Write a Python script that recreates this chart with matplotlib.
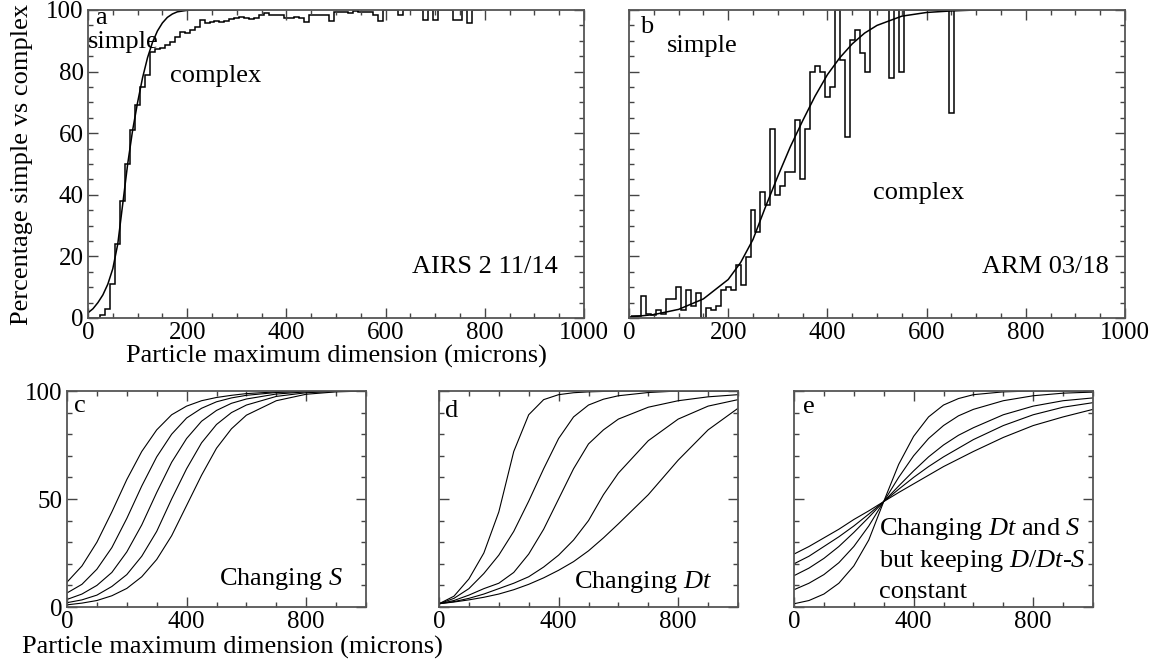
import numpy as np
import matplotlib.pyplot as plt
from matplotlib.ticker import MultipleLocator

plt.rcParams['font.family'] = ['Liberation Serif', 'DejaVu Serif']
plt.rcParams['mathtext.fontset'] = 'custom'
plt.rcParams['mathtext.rm'] = 'Liberation Serif'
plt.rcParams['mathtext.it'] = 'Liberation Serif:italic'

# (a) AIRS 2 11/14: percent simple per 10 micron bin, bins centred at 0, 10, 20 ...
a_pct = [0, 0, 0, 1, 3, 11, 24, 38, 50, 61,
         69, 75, 79, 86.5, 87.2, 87.8, 88.6, 89.7, 91.1, 93,
         92.4, 93.5, 94.6, 96.8, 95.7, 96.2, 96.5, 96.2, 96.5, 97,
         97.3, 97.8, 97.3, 97, 97.3, 98.4, 98.9, 98.4, 98.4, 98.4,
         97.5, 97.3, 97.8, 97.5, 96.2, 98.4, 98.4, 98.4, 98.4, 96.5,
         99.5, 99.5, 99.5, 99, 99.8, 99.5, 99.5, 99.5, 98.4, 96.4,
         100, 100, 100, 98.4, 100, 100, 100, 100, 96.8, 100,
         96.8, 100, 100, 100, 96.8, 96.8, 100, 95.7, 100, 100]
a_fit_x = [0, 10, 20, 30, 40, 50, 60, 70, 80, 90, 100, 110, 120,
           130, 140, 150, 160, 170, 180, 200, 220, 250, 300]
a_fit_y = [1.7, 3, 5, 7.5, 11, 16, 24, 37, 50, 61, 70, 78, 84.5,
           89.5, 93.2, 95.8, 97.6, 98.7, 99.4, 99.9, 100, 100, 100]

# (b) ARM 03/18, 10 micron bins starting at 5 microns
b_pct = [0.5, 0.8, 7, 1.4, 1.0, 2.5, 1.4, 6.3, 6.3, 10,
         2.5, 9.2, 4, 8.2, 0, 3.4, 2.5, 3.8, 9, 10.1,
         9, 17.2, 10.8, 19.9, 35, 28, 41, 36.7, 61.5, 40,
         43, 47.5, 47.5, 64.3, 45, 61.5, 80, 81.7, 80, 71.8,
         75, 100, 83.8, 58.8, 90.3, 93.5, 85.9, 80, 100, 100,
         100, 100, 77.8, 100, 80, 100, 100, 100, 100, 100,
         100, 100, 100, 100, 66.5, 100]
b_fit_x = [0, 50, 100, 150, 200, 225, 250, 275, 300, 325, 350, 375,
           400, 425, 450, 475, 500, 550, 600, 650, 700, 750]
b_fit_y = [0.3, 1.1, 2.8, 6.2, 12.5, 18, 25.5, 36, 46, 55.5, 64, 72,
           79, 84.5, 89, 92.5, 95, 98, 99.2, 99.7, 100, 100]

# model curves for (c), (d), (e)
model_x = [0, 50, 100, 150, 200, 250, 300, 350, 400, 450, 500,
           550, 600, 700, 800, 900, 1000]
c_curves = [
    [11.5, 19, 30, 44, 59, 72, 82, 89, 93, 95.5, 97, 98, 98.8, 99.6, 100, 100, 100],
    [6.5, 10.5, 17.5, 27.5, 41, 56, 69.5, 80, 87.5, 92, 95, 96.8, 98, 99.3, 99.8, 100, 100],
    [3.5, 6, 10, 16, 25.5, 38, 53, 67, 78, 86, 91, 94.3, 96.3, 98.6, 99.6, 100, 100],
    [2, 3.3, 5.5, 9.5, 15, 23.5, 35, 50, 64, 76, 84.5, 90, 93.5, 97.5, 99.2, 99.8, 100],
    [1, 1.8, 3, 5.2, 8.6, 14, 22, 33, 47, 61, 73.5, 82.5, 88.8, 95.5, 98.5, 99.6, 100],
]
d_curves = [
    [1.5, 5, 13, 25, 44, 72, 89, 96, 98.3, 99.2, 99.6, 99.8, 100, 100, 100, 100, 100],
    [1.5, 4, 8.5, 15.5, 24, 35, 49, 64, 78, 88, 93.5, 96.2, 97.8, 99.3, 100, 100, 100],
    [1.5, 3, 5.5, 8.5, 11, 16, 24.5, 36, 50, 64, 75.5, 82, 87, 92.5, 95.5, 97.3, 98.3],
    [1.5, 2.5, 4, 6, 8.5, 11, 14, 18.5, 24, 31, 40, 52, 62, 77, 87, 93, 96],
    [1.5, 2.3, 3.3, 4.5, 6, 8, 10.5, 13.5, 17, 21, 26, 32, 38.5, 52, 68, 82, 92],
]
e_curves = [
    [24.5, 28, 32, 36, 40.5, 44.5, 48.8, 53, 57, 61, 65, 68.5, 72, 78.5, 84, 88, 91.5],
    [20, 23.5, 28, 32.5, 37.5, 43, 48.8, 54.5, 60, 65, 69.5, 73.5, 77.5, 84, 89, 92.5, 94.6],
    [14.5, 18, 22.5, 28, 34.5, 41.5, 48.8, 56, 63, 69.5, 75, 79.5, 83, 89, 93, 95.5, 96.8],
    [8, 11, 15, 20.5, 28, 37.5, 48.8, 60, 70, 78, 84, 88.5, 91.5, 95.5, 97.8, 99, 99.5],
    [1.5, 3, 6, 11, 19, 31, 48.8, 66, 79, 88, 93.5, 96.5, 98.3, 99.6, 100, 100, 100],
]
e_text = ['Changing $\\mathit{Dt}$ and $\\mathit{S}$',
          'but keeping $\\mathit{D/Dt}$-$\\mathit{S}$',
          'constant']
e_text_y = [33.3, 18.7, 4]

W, H = 1152, 670
fig = plt.figure(figsize=(W / 100, H / 100), dpi=100)


def box(x0, y0, x1, y1):
    # pixel box -> figure fraction
    return [x0 / W, 1 - y1 / H, (x1 - x0) / W, (y1 - y0) / H]


def style(ax, xmaj, xmin, ymaj, ymin, ylabels=True):
    ax.set_xlim(0, 1000)
    ax.set_ylim(0, 100)
    ax.xaxis.set_major_locator(MultipleLocator(xmaj))
    ax.xaxis.set_minor_locator(MultipleLocator(xmin))
    ax.yaxis.set_major_locator(MultipleLocator(ymaj))
    ax.yaxis.set_minor_locator(MultipleLocator(ymin))
    ax.tick_params(which='both', direction='in', top=True, right=True,
                   color='#444444', width=1.0, labelsize=18, pad=3)
    ax.tick_params(which='major', length=7)
    ax.tick_params(which='minor', length=3.5)
    ax.tick_params(axis='y', labelleft=ylabels)
    for s in ax.spines.values():
        s.set_color('#555555')
        s.set_linewidth(1.3)


txt = dict(fontsize=19, va='baseline')

# --- top row: observed fractions ---
ax_a = fig.add_axes(box(88, 10, 584, 318))
centres = np.arange(len(a_pct)) * 10
ax_a.stairs(a_pct, np.append(centres - 5, centres[-1] + 5), color='black', lw=1.1, baseline=None)
ax_a.plot(a_fit_x, a_fit_y, color='black', lw=1.1)
style(ax_a, 200, 50, 20, 5)
ax_a.text(14, 95.6, 'a', **txt)
ax_a.text(0, 87.6, 'simple', **txt)
ax_a.text(165, 76.7, 'complex', **txt)
ax_a.text(947, 14.6, 'AIRS 2 11/14', ha='right', **txt)

ax_b = fig.add_axes(box(629, 10, 1125, 318))
b_edges = 5 + np.arange(len(b_pct) + 1) * 10
ax_b.stairs(b_pct, b_edges, color='black', lw=1.1, baseline=None)
ax_b.plot(b_fit_x, b_fit_y, color='black', lw=1.1)
style(ax_b, 200, 50, 20, 5, ylabels=False)
ax_b.text(22, 92.5, 'b', **txt)
ax_b.text(77, 86.5, 'simple', **txt)
ax_b.text(491, 38.6, 'complex', **txt)
ax_b.text(967, 14.6, 'ARM 03/18', ha='right', **txt)

fig.text(22 / W, 1 - 164 / H, 'Percentage simple vs complex', rotation=90,
         ha='center', va='center', fontsize=19)
fig.text(336 / W, 1 - 356 / H, 'Particle maximum dimension (microns)',
         ha='center', va='center', fontsize=19)

# --- bottom row: model sensitivity ---
ax_c = fig.add_axes(box(67, 391, 366, 607))
for ys in c_curves:
    ax_c.plot(model_x, ys, color='black', lw=0.8)
style(ax_c, 400, 100, 50, 10)
ax_c.text(24, 90.4, 'c', **txt)
ax_c.text(924, 10.2, 'Changing $\\mathit{S}$', ha='right', **txt)

ax_d = fig.add_axes(box(439, 391, 738, 607))
for ys in d_curves:
    ax_d.plot(model_x, ys, color='black', lw=0.8)
style(ax_d, 400, 100, 50, 10, ylabels=False)
ax_d.text(19, 88, 'd', **txt)
ax_d.text(451, 9, 'Changing $\\mathit{Dt}$', **txt)

ax_e = fig.add_axes(box(794, 391, 1093, 607))
for ys in e_curves:
    ax_e.plot(model_x, ys, color='black', lw=0.8)
style(ax_e, 400, 100, 50, 10, ylabels=False)
ax_e.text(30, 89.7, 'e', **txt)
for line, y in zip(e_text, e_text_y):
    ax_e.text(283, y, line, **txt)

fig.text(22 / W, 1 - 647 / H, 'Particle maximum dimension (microns)',
         ha='left', va='center', fontsize=19)

fig.savefig('out.png', dpi=100)
